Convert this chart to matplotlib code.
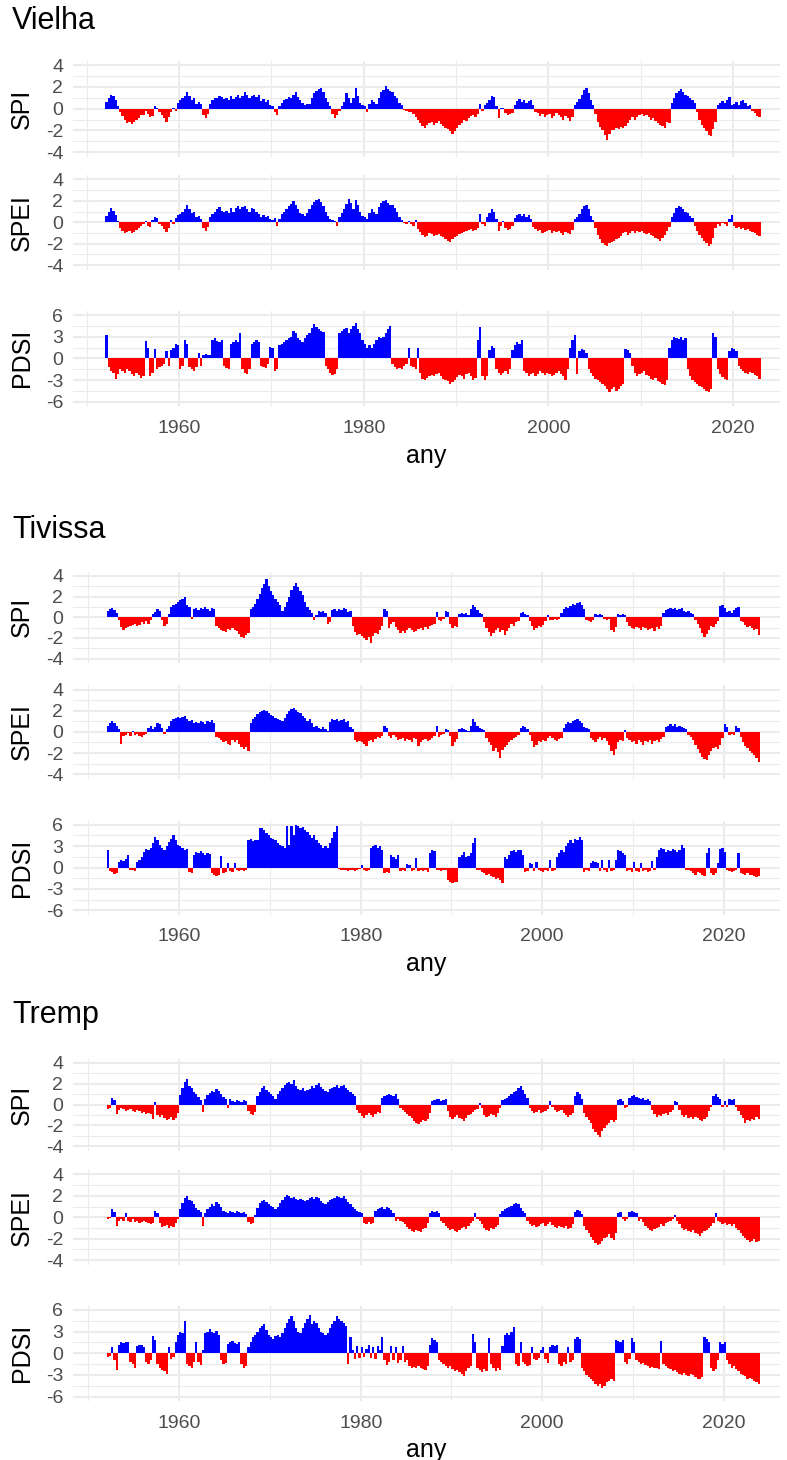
import numpy as np
import matplotlib
matplotlib.use("Agg")
import matplotlib.pyplot as plt

plt.rcParams["font.family"] = ["Liberation Sans", "DejaVu Sans"]

# Quarterly values (4 per year).
# Vielha runs 1952-2022, Tivissa and Tremp run 1952-2023.
first_year = 1952
stations = ["Vielha", "Tivissa", "Tremp"]
index_names = ["SPI", "SPEI", "PDSI"]

vielha_spi = [
    0.6, 1.0, 1.3, 1.2, 0.8, 0.2, -0.3, -0.7,  # 1952
    -1.0, -1.3, -1.2, -1.4, -1.2, -1.0, -0.9, -0.6,  # 1954
    -0.6, -0.2, -0.5, -0.8, -0.7, 0.2, 0.1, -0.3,  # 1956
    -0.6, -0.9, -1.2, -0.8, -0.3, 0.1, -0.2, 0.5,  # 1958
    0.8, 1.0, 1.2, 1.5, 1.2, 0.8, 1.0, 0.4,  # 1960
    0.6, 0.4, -0.6, -0.9, -0.5, 0.4, 0.8, 1.0,  # 1962
    1.0, 1.2, 1.1, 0.9, 1.0, 0.8, 1.2, 0.9,  # 1964
    1.1, 1.3, 1.0, 1.2, 1.5, 1.3, 1.0, 1.2,  # 1966
    1.3, 1.1, 1.3, 0.7, 0.9, 0.6, 0.8, 0.3,  # 1968
    0.2, -0.3, -0.6, 0.2, 0.5, 0.8, 0.9, 1.1,  # 1970
    1.0, 1.3, 1.5, 1.1, 0.8, 0.5, 0.3, 0.4,  # 1972
    0.4, 1.0, 1.4, 1.6, 1.8, 1.9, 1.5, 1.0,  # 1974
    0.6, 0.2, -0.5, -0.9, -0.6, -0.2, 0.2, 0.6,  # 1976
    1.4, 1.0, 0.5, 1.0, 1.9, 1.2, 0.5, 0.3,  # 1978
    0.2, -0.3, 0.4, 0.8, 0.6, 0.4, 1.0, 1.5,  # 1980
    1.7, 2.1, 1.8, 1.6, 1.5, 1.2, 1.0, 0.5,  # 1982
    0.3, -0.1, -0.2, -0.3, -0.3, -0.5, -0.8, -1.0,  # 1984
    -1.3, -1.6, -1.8, -1.5, -1.3, -1.2, -1.5, -1.3,  # 1986
    -1.1, -1.4, -1.6, -1.8, -1.9, -2.1, -2.3, -2.1,  # 1988
    -1.8, -1.5, -1.3, -1.0, -1.1, -0.9, -0.7, -0.6,  # 1990
    -0.8, -0.5, 0.4, -0.2, 0.3, 0.5, 0.8, 1.2,  # 1992
    1.1, 0.2, -0.9, 0.1, 0.1, -0.4, -0.6, -0.5,  # 1994
    -0.4, 0.3, 0.7, 0.9, 0.6, 0.8, 0.5, 0.7,  # 1996
    0.8, 0.3, -0.3, -0.4, -0.7, -0.5, -0.8, -0.6,  # 1998
    -0.5, -0.9, -0.7, -0.4, -0.6, -0.8, -1.0, -0.7,  # 2000
    -0.9, -1.1, -0.8, 0.3, 0.6, 0.9, 1.3, 1.7,  # 2002
    1.9, 1.4, 0.8, 0.3, -0.5, -1.2, -1.7, -2.0,  # 2004
    -2.4, -2.9, -2.3, -2.0, -2.0, -1.8, -1.9, -1.7,  # 2006
    -1.8, -1.6, -1.3, -1.0, -0.8, -1.0, -0.8, -0.6,  # 2008
    -0.5, -0.7, -0.6, -0.8, -1.0, -0.9, -1.1, -1.3,  # 2010
    -1.5, -1.6, -1.8, -1.2, -1.3, 0.5, 1.0, 1.4,  # 2012
    1.6, 1.8, 1.5, 1.3, 1.2, 1.0, 0.8, 0.5,  # 2014
    -0.3, -1.0, -1.5, -1.8, -2.1, -2.4, -2.5, -1.9,  # 2016
    -1.2, 0.3, 0.5, 0.7, 0.5, 0.8, 1.1, 0.3,  # 2018
    0.4, 0.6, 0.3, 0.7, 0.8, 0.5, 0.2, 0.3,  # 2020
    -0.2, -0.4, -0.7, -0.8,  # 2022
]

vielha_spei = [
    0.6, 1.0, 1.3, 1.1, 0.7, 0.1, -0.5, -0.8,  # 1952
    -1.0, -0.9, -0.8, -1.0, -0.9, -0.7, -0.5, -0.3,  # 1954
    -0.2, 0.1, -0.3, -0.4, 0.2, 0.5, 0.4, -0.2,  # 1956
    -0.3, -0.6, -0.9, -0.5, 0.2, -0.2, 0.4, 0.7,  # 1958
    0.8, 1.0, 1.2, 1.6, 1.2, 0.9, 1.0, 0.5,  # 1960
    0.6, 0.3, -0.5, -0.8, -0.4, 0.5, 0.8, 1.0,  # 1962
    1.2, 1.4, 1.1, 1.0, 1.1, 0.9, 1.3, 1.0,  # 1964
    1.3, 1.5, 1.2, 1.4, 1.5, 1.2, 1.0, 1.3,  # 1966
    1.2, 1.0, 0.8, 0.5, 0.7, 0.5, 0.6, 0.3,  # 1968
    0.2, 0.4, -0.3, 0.3, 0.8, 1.0, 1.2, 1.5,  # 1970
    1.7, 2.0, 1.6, 1.2, 0.9, 0.8, 0.6, 0.9,  # 1972
    1.2, 1.6, 1.9, 2.1, 2.2, 1.9, 1.5, 1.0,  # 1974
    0.6, 0.3, 0.2, 0.1, -0.3, 0.5, 0.9, 1.2,  # 1976
    1.7, 2.2, 1.8, 1.2, 2.1, 1.6, 1.0, 0.6,  # 1978
    0.5, 0.3, 0.9, 1.2, 1.0, 0.8, 1.4, 1.8,  # 1980
    2.0, 2.1, 1.8, 1.6, 1.6, 1.3, 1.0, 0.5,  # 1982
    0.2, -0.1, -0.2, 0.1, -0.2, -0.3, 0.2, -0.6,  # 1984
    -0.9, -1.2, -1.4, -1.3, -1.0, -1.1, -1.3, -1.2,  # 1986
    -1.1, -1.3, -1.4, -1.6, -1.7, -1.8, -1.6, -1.4,  # 1988
    -1.3, -1.1, -1.0, -0.9, -0.8, -0.7, -0.6, -0.8,  # 1990
    -0.7, -0.5, 0.8, -0.2, -0.3, 0.5, 0.9, 1.2,  # 1992
    1.0, 0.3, -0.8, -0.3, 0.1, -0.5, -0.7, -0.6,  # 1994
    -0.3, 0.4, 0.7, 0.8, 0.6, 0.8, 0.5, 0.7,  # 1996
    0.3, -0.4, -0.6, -0.8, -0.7, -1.0, -0.9, -0.8,  # 1998
    -0.7, -1.0, -0.8, -0.9, -0.8, -1.0, -1.2, -0.9,  # 2000
    -1.0, -1.1, -0.7, 0.3, 0.5, 0.8, 1.2, 1.5,  # 2002
    1.6, 1.2, 0.6, 0.2, -0.5, -1.2, -1.6, -1.9,  # 2004
    -2.1, -2.2, -1.9, -1.8, -1.7, -1.6, -1.5, -1.3,  # 2006
    -1.0, -0.9, -1.2, -1.0, -0.8, -1.0, -0.8, -0.9,  # 2008
    -0.8, -1.0, -1.1, -1.0, -1.2, -1.3, -1.5, -1.6,  # 2010
    -1.7, -1.5, -1.2, -0.8, -0.4, 0.5, 0.9, 1.3,  # 2012
    1.5, 1.4, 1.2, 1.0, 0.9, 0.6, 0.4, -0.3,  # 2014
    -0.8, -1.2, -1.5, -1.7, -1.9, -2.2, -2.0, -1.5,  # 2016
    -0.5, -0.2, -0.3, -0.1, -0.2, -0.3, 0.3, 0.7,  # 2018
    -0.3, -0.5, -0.4, -0.6, -0.5, -0.7, -0.6, -0.8,  # 2020
    -0.9, -1.0, -1.2, -1.3,  # 2022
]

vielha_pdsi = [
    3.2, -1.2, -1.8, -2.0, -2.8, -2.2, -1.5, -1.8,  # 1952
    -2.0, -1.5, -1.8, -2.2, -2.5, -2.0, -2.3, -2.7,  # 1954
    -2.5, 2.4, 1.5, -2.5, -2.0, 1.3, -1.5, -1.2,  # 1956
    -1.0, -0.8, 1.0, -1.0, 1.2, 1.5, 2.0, 1.8,  # 1958
    -1.5, -1.0, 2.5, 2.0, -1.2, -1.5, -1.8, -1.2,  # 1960
    0.8, -1.0, 0.5, 0.6, 0.4, 0.5, 2.5, 2.8,  # 1962
    2.4, 2.2, 2.5, -1.0, -1.3, -1.5, 2.0, 2.3,  # 1964
    2.5, 2.2, 3.5, -1.5, -2.0, -2.2, -1.5, 2.0,  # 1966
    2.3, 2.5, 2.2, -1.0, -1.2, -1.3, -0.8, 1.6,  # 1968
    1.5, -1.8, -1.5, 1.8, 2.0, 2.2, 2.5, 2.8,  # 1970
    3.0, 3.8, 3.5, 2.8, 2.5, 2.3, 2.8, 3.2,  # 1972
    3.5, 4.2, 4.7, 4.3, 4.0, 3.8, 3.6, -1.0,  # 1974
    -1.5, -2.0, -2.3, -2.2, -1.5, 3.5, 3.8, 4.0,  # 1976
    4.2, 3.5, 4.0, 4.5, 4.9, 4.0, 3.5, 2.5,  # 1978
    2.0, 1.5, 1.8, 1.5, 2.0, 2.5, 3.0, 2.8,  # 1980
    3.0, 3.5, 4.0, 4.5, -0.8, -1.2, -1.5, -1.3,  # 1982
    -1.5, -1.0, -0.8, 1.5, -1.0, -1.2, -1.5, 1.4,  # 1984
    -2.0, -2.8, -3.0, -2.7, -2.5, -2.3, -2.5, -2.2,  # 1986
    -2.0, -2.4, -2.8, -3.0, -3.2, -3.5, -3.3, -3.0,  # 1988
    -2.6, -2.3, -2.5, -2.8, -2.2, -2.0, -2.5, -3.0,  # 1990
    -2.7, 2.5, 4.3, -2.5, -3.0, -2.5, 1.2, 1.7,  # 1992
    1.5, -1.5, -2.0, -2.3, -2.0, -1.8, -2.1, -1.5,  # 1994
    1.2, 1.8, 2.2, 2.0, 2.5, -1.8, -2.0, -2.5,  # 1996
    -2.2, -2.0, -2.4, -2.1, -1.8, -2.0, -2.3, -2.0,  # 1998
    -2.2, -2.5, -2.3, -2.0, -1.8, -2.2, -2.5, -3.0,  # 2000
    -1.5, 1.5, 2.5, 3.2, -2.2, 1.0, 1.3, 1.2,  # 2002
    0.8, -1.5, -2.0, -2.5, -2.8, -3.0, -3.3, -3.5,  # 2004
    -3.8, -4.2, -4.7, -4.3, -4.0, -4.5, -4.2, -3.8,  # 2006
    -3.5, 1.3, 1.2, 0.8, -1.0, -2.0, -2.5, -2.2,  # 2008
    -2.0, -1.8, -2.3, -2.5, -2.8, -3.0, -2.7, -3.2,  # 2010
    -3.3, -3.5, -3.7, -3.0, 1.5, 2.5, 3.0, 2.8,  # 2012
    2.7, 3.0, 2.5, 2.8, -1.5, -2.5, -3.0, -3.3,  # 2014
    -3.5, -3.8, -4.0, -4.2, -4.5, -4.7, -4.3, 3.5,  # 2016
    3.0, -1.5, -2.2, -2.6, -2.8, -3.0, 1.0, 1.5,  # 2018
    1.3, 1.0, -1.0, -1.5, -1.8, -2.0, -2.2, -1.9,  # 2020
    -2.0, -2.3, -2.5, -2.8,  # 2022
]

tivissa_spi = [
    0.6, 0.8, 0.9, 0.7, 0.4, -0.3, -0.9, -1.2,  # 1952
    -1.0, -0.9, -0.8, -0.7, -0.6, -0.8, -0.7, -0.5,  # 1954
    -0.6, -0.4, -0.6, -0.3, 0.3, 0.5, 0.8, 0.6,  # 1956
    -0.3, -0.8, -0.6, 0.3, 1.0, 1.2, 1.3, 1.5,  # 1958
    1.7, 1.8, 2.0, 1.2, 1.0, -0.2, 0.8, 0.9,  # 1960
    0.7, 0.9, 0.8, 1.0, 0.8, 0.6, 0.9, 0.8,  # 1962
    -0.8, -1.0, -1.2, -1.3, -1.4, -1.1, -1.2, -1.0,  # 1964
    -1.2, -1.3, -1.6, -1.9, -2.0, -1.7, -1.5, 0.8,  # 1966
    1.0, 1.3, 1.8, 2.3, 2.8, 3.2, 3.7, 3.0,  # 1968
    2.5, 2.2, 1.8, 1.5, 1.2, 0.6, 1.0, 1.5,  # 1970
    2.0, 2.6, 3.0, 3.3, 2.9, 2.5, 2.2, 1.5,  # 1972
    1.0, 0.7, 0.4, -0.3, 0.2, 0.6, 0.5, 0.6,  # 1974
    0.4, -0.6, -0.5, 0.7, 0.8, 0.6, 0.8, 0.7,  # 1976
    0.9, 0.8, 0.5, 0.6, -0.8, -1.4, -1.7, -1.6,  # 1978
    -1.8, -2.0, -2.2, -1.9, -2.5, -1.8, -1.5, -1.6,  # 1980
    -1.2, -0.8, 0.8, 0.6, -1.0, -0.6, -0.5, -0.9,  # 1982
    -1.2, -1.5, -1.3, -1.5, -1.2, -1.0, -1.2, -1.4,  # 1984
    -1.3, -1.1, -1.0, -1.2, -0.9, -1.1, -0.8, -0.7,  # 1986
    -0.6, 0.5, -0.3, -0.4, -0.2, 0.6, 0.5, -0.6,  # 1988
    -1.0, -0.8, -0.9, 0.3, 0.4, 0.3, 0.4, 0.2,  # 1990
    0.8, 1.2, 1.0, 0.7, 0.4, 0.3, -0.5, -1.0,  # 1992
    -1.4, -1.8, -1.5, -1.2, -1.0, -1.4, -1.2, -1.7,  # 1994
    -1.3, -1.0, -0.6, -0.8, -0.5, -0.4, 0.4, 0.5,  # 1996
    0.3, 0.2, -0.4, -0.8, -1.2, -1.0, -0.8, -0.9,  # 1998
    -0.7, -0.4, 0.2, -0.3, -0.3, -0.2, -0.3, -0.2,  # 2000
    0.4, 0.8, 1.0, 0.9, 1.1, 1.3, 1.2, 1.4,  # 2002
    1.5, 1.2, 0.8, -0.3, -0.4, -0.5, -0.3, 0.3,  # 2004
    0.2, 0.3, 0.2, -0.2, -0.3, -0.2, -1.2, -1.4,  # 2006
    -0.9, 0.3, 0.2, 0.3, 0.2, -0.5, -0.8, -1.0,  # 2008
    -1.1, -0.9, -1.0, -1.2, -0.9, -1.0, -1.2, -1.1,  # 2010
    -1.0, -1.3, -0.9, -1.1, -0.8, 0.4, 0.7, 0.8,  # 2012
    0.9, 0.8, 0.9, 0.7, 0.8, 0.9, 0.6, 0.5,  # 2014
    0.6, 0.4, 0.3, -0.3, -0.6, -1.0, -1.5, -1.9,  # 2016
    -1.6, -1.2, -0.8, -0.9, -0.6, -0.4, 1.1, 1.2,  # 2018
    0.9, 0.5, 0.6, 0.4, 0.7, 0.9, 1.0, -0.4,  # 2020
    -0.5, -0.7, -0.9, -0.8, -1.0, -1.2, -1.1, -1.7,  # 2022
]

tivissa_spei = [
    0.6, 0.8, 1.0, 0.8, 0.6, 0.3, -1.1, -0.4,  # 1952
    -0.3, -0.1, -0.4, 0.1, -0.3, -0.2, -0.4, -0.5,  # 1954
    -0.3, -0.2, 0.4, 0.6, 0.3, 0.5, 0.8, 0.7,  # 1956
    0.4, -0.2, 0.3, 0.6, 1.0, 1.2, 1.3, 1.4,  # 1958
    1.3, 1.4, 1.5, 1.2, 1.0, 1.1, 0.8, 0.9,  # 1960
    0.8, 1.0, 0.9, 0.7, 1.0, 0.9, 1.1, 0.8,  # 1962
    -0.5, -0.6, -0.8, -1.0, -0.9, -1.1, -1.2, -0.8,  # 1964
    -1.0, -0.8, -1.1, -1.4, -1.6, -1.4, -1.8, 0.8,  # 1966
    1.2, 1.4, 1.7, 1.9, 2.0, 2.1, 2.0, 1.8,  # 1968
    1.6, 1.5, 1.3, 1.2, 1.1, 1.0, 1.3, 1.7,  # 1970
    2.0, 2.2, 2.3, 2.1, 1.9, 1.8, 1.5, 1.3,  # 1972
    1.0, 1.2, 0.8, 0.5, 0.6, 0.4, 0.3, 0.5,  # 1974
    0.3, 0.1, 0.9, 1.2, 1.1, 1.2, 1.0, 1.1,  # 1976
    1.2, 0.9, 1.0, 0.5, 0.3, -0.8, -1.0, -0.9,  # 1978
    -1.0, -1.1, -1.3, -0.9, -0.8, -1.0, -0.7, -0.5,  # 1980
    -0.6, -0.4, 0.6, 0.4, -0.4, -0.6, -0.3, -0.5,  # 1982
    -0.8, -0.7, -0.6, -0.9, -0.7, -0.8, -1.0, -0.6,  # 1984
    -0.7, -1.3, -1.0, -0.8, -0.7, -0.9, -0.8, -0.6,  # 1986
    -0.4, 0.6, -0.5, -0.3, -0.2, 0.3, 0.2, -0.4,  # 1988
    -1.3, -1.0, -0.7, 0.3, 0.4, 0.3, 0.2, 0.1,  # 1990
    0.6, 1.2, 0.9, 0.6, 0.4, 0.3, 0.2, -0.6,  # 1992
    -1.0, -1.2, -1.8, -1.5, -1.9, -2.5, -1.7, -1.4,  # 1994
    -1.2, -1.0, -0.8, -0.6, -0.5, -0.3, 0.4, 0.6,  # 1996
    0.5, 0.3, -0.3, -0.9, -1.4, -1.2, -0.9, -1.0,  # 1998
    -0.8, -0.9, -0.6, -0.4, -0.6, -0.8, -0.9, -0.7,  # 2000
    -0.6, 0.4, 0.7, 0.9, 0.8, 1.0, 1.1, 1.2,  # 2002
    1.0, 0.8, 0.5, 0.4, 0.3, -0.6, -0.8, -1.0,  # 2004
    -0.7, -0.5, -0.8, -0.6, -0.9, -1.2, -1.8, -2.2,  # 2006
    -1.6, -1.0, -0.8, -0.9, 0.2, -0.6, -0.8, -1.0,  # 2008
    -0.9, -1.1, -0.8, -1.0, -1.2, -0.9, -1.0, -0.8,  # 2010
    -1.1, -0.9, -0.8, -1.0, -0.7, -0.5, 0.5, 0.6,  # 2012
    0.7, 0.6, 0.7, 0.5, 0.6, 0.5, 0.4, 0.3,  # 2014
    -0.3, -0.5, -0.8, -1.2, -1.6, -2.0, -2.4, -2.6,  # 2016
    -2.7, -2.2, -1.8, -1.5, -1.4, -1.6, -1.2, -0.6,  # 2018
    0.7, 0.5, -0.3, -0.2, -0.3, 0.6, 0.4, -0.5,  # 2020
    -1.0, -1.3, -1.5, -1.8, -2.0, -2.2, -2.5, -2.8,  # 2022
]

tivissa_pdsi = [
    2.4, -0.5, -0.7, -0.9, -0.8, 0.8, 1.0, 0.9,  # 1952
    1.2, 1.7, -0.4, -0.3, -0.5, 0.8, 1.0, 1.5,  # 1954
    2.2, 2.6, 2.4, 2.8, 3.5, 4.3, 3.8, 3.2,  # 1956
    2.8, 2.5, 3.0, 3.6, 4.0, 4.5, 3.8, 3.2,  # 1958
    3.0, 2.8, 2.5, 2.6, -0.6, -0.8, 1.8, 2.2,  # 1960
    2.0, 2.3, 2.0, 1.8, 2.1, 1.9, -0.8, -1.0,  # 1962
    -1.2, -1.0, 1.6, -0.8, -0.6, 0.6, -0.5, -0.6,  # 1964
    0.6, -0.4, -0.5, -0.3, -0.5, -0.4, 3.8, 4.0,  # 1966
    3.7, 3.9, 3.8, 5.5, 5.6, 5.3, 4.8, 4.5,  # 1968
    4.2, 4.0, 3.8, 3.5, 3.2, 3.0, 2.8, 5.8,  # 1970
    3.2, 5.8, 4.5, 5.9, 5.8, 5.5, 5.7, 5.2,  # 1972
    5.0, 4.6, 4.2, 4.5, 3.8, 3.5, 3.2, 2.8,  # 1974
    3.0, 2.8, 3.5, 4.2, 5.0, 5.8, -0.2, -0.3,  # 1976
    -0.4, -0.3, -0.5, -0.4, -0.3, -0.5, -0.4, -0.2,  # 1978
    0.4, -0.3, -0.5, -0.4, 2.8, 3.0, 3.2, 2.8,  # 1980
    3.0, 2.5, -0.8, -0.6, -0.8, 1.8, 1.5, 1.2,  # 1982
    1.8, -0.5, -0.4, -0.5, 0.5, 0.4, -0.5, -0.4,  # 1984
    1.4, -0.5, -0.3, -0.5, -0.4, -0.6, 2.0, 2.5,  # 1986
    2.3, -0.3, -0.4, -0.5, -0.3, -0.4, -1.8, -2.0,  # 1988
    -2.2, -2.0, -2.1, 1.5, 1.8, 2.2, 1.5, 1.6,  # 1990
    2.0, 3.5, 4.2, -0.3, -0.4, -0.6, -0.8, -1.0,  # 1992
    -0.9, -1.2, -1.4, -1.6, -1.5, -1.8, -2.2, 1.5,  # 1994
    1.2, 1.8, 2.3, 2.5, 2.2, 2.4, 2.5, 1.8,  # 1996
    -0.6, -0.5, 0.6, 0.5, -0.5, 0.8, -0.4, -0.5,  # 1998
    -0.6, -0.4, -0.5, 1.0, -0.5, -0.4, 1.5, 2.0,  # 2000
    2.5, 2.2, 3.0, 3.5, 3.8, 3.5, 4.0, 3.9,  # 2002
    4.3, 3.8, -0.6, -0.4, -0.5, 0.6, 0.9, 0.8,  # 2004
    0.6, -0.5, 1.0, -0.4, -0.6, 1.0, -0.5, -0.4,  # 2006
    1.0, 2.5, 2.3, 2.0, 1.8, -0.5, -0.4, -0.6,  # 2008
    0.8, -0.5, -0.6, 0.7, -0.5, -0.4, -0.6, -0.5,  # 2010
    0.9, -0.4, 1.5, 2.5, 2.8, 2.6, 2.2, 2.5,  # 2012
    2.3, 2.6, 2.4, 2.2, 2.5, 3.2, 2.7, -0.3,  # 2014
    -0.4, -0.5, -0.8, -1.0, -0.6, -0.8, -1.0, -1.2,  # 2016
    2.0, 2.7, -0.8, -1.0, -0.8, 0.6, 2.6, 2.8,  # 2018
    2.2, -0.4, -0.5, -0.6, -0.5, -0.3, 2.0, -0.8,  # 2020
    -0.9, -1.0, -0.8, -1.1, -1.0, -1.2, -1.3, -1.2,  # 2022
]

tremp_spi = [
    -0.4, -0.3, 0.6, 0.4, -0.9, -0.5, -0.3, -0.4,  # 1952
    -0.6, -0.5, -0.4, -0.6, -0.7, -0.5, -0.6, -0.8,  # 1954
    -0.7, -0.9, -0.8, -0.9, -1.4, 0.2, -1.0, -1.2,  # 1956
    -1.0, -1.3, -1.5, -1.4, -1.2, -1.5, -1.3, -0.8,  # 1958
    0.9, 1.6, 2.2, 2.4, 1.8, 1.6, 1.2, 1.0,  # 1960
    0.7, 0.4, -0.7, 0.5, 0.9, 1.1, 1.3, 1.2,  # 1962
    1.5, 1.3, 1.0, 0.7, 0.5, -0.3, 0.5, 0.3,  # 1964
    0.2, 0.4, 0.3, 0.2, 0.4, 0.3, -0.6, -0.9,  # 1966
    -1.0, -0.7, 0.8, 1.2, 1.6, 1.8, 1.4, 1.2,  # 1968
    1.0, 0.8, 0.5, 1.0, 1.3, 1.6, 1.9, 2.1,  # 1970
    2.2, 2.0, 2.3, 1.8, 1.5, 1.4, 1.6, 1.3,  # 1972
    1.4, 1.5, 1.8, 1.6, 1.9, 2.1, 1.7, 1.5,  # 1974
    1.3, 1.2, 1.5, 1.6, 1.7, 1.9, 1.6, 1.8,  # 1976
    1.9, 1.6, 1.4, 1.2, 1.0, 0.8, -0.5, -0.8,  # 1978
    -1.1, -1.3, -1.0, -0.8, -1.0, -1.2, -0.9, -0.7,  # 1980
    -0.8, 0.6, 0.8, 0.9, 1.0, 0.9, 0.8, 1.0,  # 1982
    0.5, -0.3, -0.5, -0.7, -0.9, -1.1, -1.3, -1.6,  # 1984
    -1.8, -1.9, -1.7, -1.5, -1.6, -1.4, -0.8, 0.3,  # 1986
    0.4, 0.5, 0.5, 0.3, 0.4, 0.5, -0.6, -1.2,  # 1988
    -1.4, -1.2, -1.0, -1.3, -1.4, -1.6, -1.3, -1.0,  # 1990
    -0.9, -0.7, -0.5, -0.4, 0.1, -0.3, -1.0, -1.2,  # 1992
    -1.1, -0.9, -1.0, -1.2, -0.8, -0.3, 0.4, 0.5,  # 1994
    0.6, 0.8, 1.0, 1.2, 1.3, 1.6, 1.8, 1.4,  # 1996
    1.0, 0.6, -0.3, -0.6, -0.8, -0.7, -0.5, -0.8,  # 1998
    -0.7, -0.6, -0.4, 0.3, -0.2, -0.5, -0.7, -0.6,  # 2000
    -0.5, -0.8, -1.0, -1.2, -1.0, -0.8, 0.8, 1.2,  # 2002
    1.0, 0.5, -0.8, -1.2, -1.5, -1.8, -2.3, -2.6,  # 2004
    -2.9, -3.1, -2.5, -2.2, -2.0, -1.8, -1.5, -1.7,  # 2006
    -1.5, 0.4, 0.5, 0.3, -0.3, -0.2, 0.6, 0.8,  # 2008
    0.9, 0.7, 0.6, 0.5, 0.6, 0.4, 0.5, 0.3,  # 2010
    -0.5, -0.9, -1.2, -1.0, -1.1, -0.9, -0.8, -1.0,  # 2012
    -0.7, -0.5, 0.3, 0.2, -0.5, -1.0, -1.2, -1.0,  # 2014
    -1.3, -1.2, -1.4, -1.2, -1.3, -1.5, -1.6, -1.4,  # 2016
    -1.2, -0.6, -0.2, 0.8, 1.0, 0.7, 0.5, -0.2,  # 2018
    0.3, -0.2, 0.5, 0.4, 0.5, -0.2, -0.6, -1.0,  # 2020
    -1.3, -1.8, -1.5, -1.6, -1.4, -1.5, -1.2, -1.4,  # 2022
]

tremp_spei = [
    -0.2, -0.1, 0.8, 0.5, -0.8, -0.3, -0.2, -0.3,  # 1952
    0.4, -0.3, -0.4, -0.2, -0.4, -0.3, -0.5, -0.4,  # 1954
    -0.3, -0.4, -0.5, -0.6, -0.5, 0.6, 0.4, -0.5,  # 1956
    -0.9, -0.8, -0.7, -1.0, -0.8, -0.9, -0.5, -0.2,  # 1958
    0.8, 1.3, 1.8, 2.0, 1.6, 1.5, 1.2, 0.9,  # 1960
    0.7, 0.5, -0.8, 0.4, 0.8, 1.0, 1.2, 1.1,  # 1962
    1.4, 1.2, 1.0, 0.6, 0.5, 0.4, 0.6, 0.5,  # 1964
    0.4, 0.6, 0.5, 0.4, 0.5, 0.3, -0.4, -0.6,  # 1966
    -0.5, 0.2, 0.9, 1.3, 1.5, 1.6, 1.4, 1.2,  # 1968
    1.1, 1.0, 0.8, 1.0, 1.3, 1.6, 1.9, 2.1,  # 1970
    2.0, 1.8, 1.9, 1.7, 1.6, 1.7, 1.6, 1.5,  # 1972
    1.6, 1.8, 1.9, 1.7, 1.9, 1.8, 1.5, 1.3,  # 1974
    1.2, 1.4, 1.6, 1.7, 1.8, 2.0, 1.9, 1.8,  # 1976
    2.0, 1.7, 1.4, 1.2, 1.0, 0.8, 0.6, 0.5,  # 1978
    0.4, -0.5, -0.6, -0.4, -0.6, -0.5, 0.6, 0.8,  # 1980
    0.9, 1.0, 0.8, 1.0, 0.9, 0.7, 0.4, -0.3,  # 1982
    -0.2, -0.3, -0.4, -0.6, -0.9, -1.1, -1.3, -1.4,  # 1984
    -1.2, -1.3, -1.4, -1.1, -1.0, -0.5, 0.4, 0.6,  # 1986
    0.5, 0.6, 0.4, -0.3, -0.5, -0.8, -1.0, -1.2,  # 1988
    -1.1, -1.3, -1.4, -1.2, -1.0, -0.9, -1.1, -0.8,  # 1990
    -0.5, -0.3, 0.4, -0.2, -0.3, -0.6, -1.0, -1.2,  # 1992
    -1.3, -1.0, -1.1, -0.9, -0.7, 0.3, 0.6, 0.8,  # 1994
    0.9, 1.0, 1.1, 1.2, 1.3, 1.2, 0.9, 0.6,  # 1996
    0.4, -0.3, -0.6, -0.8, -0.7, -0.9, -0.8, -0.6,  # 1998
    -0.5, -0.8, -0.6, -0.4, -0.7, -0.9, -1.0, -0.8,  # 2000
    -0.9, -1.0, -0.8, -1.1, -1.0, -0.6, 0.5, 0.7,  # 2002
    0.6, 0.3, -0.8, -1.2, -1.5, -1.8, -2.1, -2.4,  # 2004
    -2.6, -2.5, -2.2, -1.9, -1.8, -1.6, -1.9, -2.1,  # 2006
    -1.5, 0.4, 0.5, -0.2, -0.3, -0.2, 0.5, 0.6,  # 2008
    0.5, 0.4, -0.3, -0.2, -0.4, -0.8, -1.0, -1.2,  # 2010
    -1.3, -1.1, -1.0, -0.9, -0.6, -0.8, -0.5, -0.4,  # 2012
    -0.3, -0.2, 0.2, -0.3, -0.6, -1.0, -1.2, -1.1,  # 2014
    -1.3, -1.4, -1.2, -1.5, -1.6, -1.7, -1.5, -1.3,  # 2016
    -1.2, -1.0, -0.8, -0.5, 0.4, -0.3, -0.4, -0.6,  # 2018
    -0.5, -0.7, -0.6, -0.8, -0.6, -1.0, -1.2, -1.5,  # 2020
    -1.7, -1.9, -2.1, -2.3, -2.2, -2.0, -2.3, -2.2,  # 2022
]

tremp_pdsi = [
    -0.5, -0.4, 0.8, -1.0, -2.3, 1.2, 1.6, 1.4,  # 1952
    1.5, 1.6, -1.2, -1.5, -2.0, 1.0, 1.2, 1.1,  # 1954
    0.8, -1.2, -1.5, -1.0, 2.4, 1.8, -1.5, -2.0,  # 1956
    -2.3, -2.5, -2.8, 0.8, -0.8, -0.5, 1.5, 2.5,  # 1958
    3.0, 2.8, 4.5, -1.5, -1.8, -2.0, -1.2, 1.5,  # 1960
    -1.2, -1.6, 0.5, 2.8, 3.0, 3.3, 3.0, 2.8,  # 1962
    3.1, 2.5, -1.0, -1.5, -1.3, 1.3, 1.5, 1.7,  # 1964
    1.4, 1.3, 1.5, -1.5, -2.0, -1.8, 0.8, 1.5,  # 1966
    2.2, 2.5, 3.0, 3.5, 3.8, 4.0, 3.2, 2.5,  # 1968
    2.2, 2.0, 2.4, 2.5, 2.3, 2.8, 3.5, 4.2,  # 1970
    4.8, 5.2, 4.5, 3.5, 3.0, 2.8, 3.5, 4.2,  # 1972
    4.8, 5.3, 4.0, 4.5, 4.2, 3.5, 3.0, 2.8,  # 1974
    2.5, 2.8, 3.5, 4.0, 4.5, 5.2, 4.8, 4.5,  # 1976
    4.2, 3.8, -1.5, 2.2, 0.5, -0.8, 1.0, -0.6,  # 1978
    0.8, -0.5, 0.6, 1.2, -0.6, 0.8, -0.8, 1.0,  # 1980
    0.5, 2.3, -1.0, -1.6, -1.2, 1.0, -1.0, 0.8,  # 1982
    -1.3, -0.9, 1.0, -1.2, -1.0, -1.8, -2.0, -1.9,  # 1984
    -2.1, -1.8, -2.0, -2.2, -2.3, -1.8, 1.2, 2.1,  # 1986
    1.8, 1.5, -1.0, -1.2, -1.5, -1.8, -2.0, -1.7,  # 1988
    -2.2, -2.5, -2.3, -2.6, -2.8, -3.2, -2.5, -2.0,  # 1990
    -1.8, 2.7, 1.5, -2.0, -2.3, -2.6, -2.2, -2.4,  # 1992
    2.1, -1.5, -2.0, -2.5, -2.0, -2.3, 1.0, 2.5,  # 1994
    2.8, 2.5, 3.0, 3.6, -1.5, -1.8, 1.5, -1.2,  # 1996
    -1.5, -1.8, -1.6, 0.8, -0.8, -1.0, -0.7, 0.5,  # 1998
    0.9, -0.8, -1.3, 0.8, 1.2, 1.0, 1.2, -1.5,  # 2000
    -1.8, -1.2, -1.5, 0.8, -1.2, -1.0, 2.0, 2.2,  # 2002
    2.0, -2.0, -2.5, -3.0, -3.3, -3.5, -3.8, -4.2,  # 2004
    -4.5, -4.3, -4.8, -4.5, -4.0, -3.8, -3.5, -3.8,  # 2006
    1.8, 1.7, 1.5, 1.8, -1.2, -1.5, -0.8, 2.1,  # 2008
    1.5, -1.0, -1.2, -1.5, -1.3, -1.6, -1.8, -2.0,  # 2010
    -1.9, -2.1, -2.0, -2.2, 1.7, -1.5, -1.8, -2.0,  # 2012
    -2.2, -2.5, -2.3, -2.6, -2.8, -3.0, -2.7, -3.0,  # 2014
    -3.2, -2.8, -3.0, -3.3, -3.5, -3.6, -3.3, 2.2,  # 2016
    2.0, 1.5, -2.0, -2.5, -2.2, -1.0, 1.5, 1.3,  # 2018
    1.5, -1.0, -1.5, -2.0, -1.8, -2.2, -2.5, -2.8,  # 2020
    -3.0, -3.2, -3.5, -3.4, -3.6, -3.8, -4.0, -4.2,  # 2022
]

station_data = {
    "Vielha": [vielha_spi, vielha_spei, vielha_pdsi],
    "Tivissa": [tivissa_spi, tivissa_spei, tivissa_pdsi],
    "Tremp": [tremp_spi, tremp_spei, tremp_pdsi],
}

# Layout in pixels (figure is 787 x 1460)
W, H = 787, 1460
panel_left, panel_right = 73, 780
panel_rows = {
    "Vielha": [(60.8, 156.5), (175.2, 269.5), (310.7, 406.0)],
    "Tivissa": [(571.8, 662.8), (685.3, 778.5), (820.5, 914.5)],
    "Tremp": [(1058.5, 1150.5), (1170.2, 1264.5), (1305.5, 1401.0)],
}
title_y = {"Vielha": 21, "Tivissa": 530, "Tremp": 1015}
xlabel_y = {"Vielha": 456, "Tivissa": 964, "Tremp": 1450}
x_limits = {"Vielha": (1948.5, 2025.1), "Tivissa": (1948.3, 2026.2), "Tremp": (1948.3, 2026.2)}

blue = "#0000FF"
red = "#FF0000"
grid_col = "#EBEBEB"

fig = plt.figure(figsize=(W / 100, H / 100), dpi=100)

for st in stations:
    fig.text(12 / W, 1 - title_y[st] / H, st, fontsize=22, ha="left", va="center")
    for k, (name, vals) in enumerate(zip(index_names, station_data[st])):
        top, bot = panel_rows[st][k]
        ax = fig.add_axes([panel_left / W, 1 - bot / H,
                           (panel_right - panel_left) / W, (bot - top) / H])
        v = np.array(vals)
        x = first_year + 0.25 * np.arange(len(v)) + 0.125
        colors = np.where(v >= 0, blue, red)
        ax.bar(x, v, width=0.25, color=colors, linewidth=0, zorder=2)

        lim = 6 if name == "PDSI" else 4
        step = 3 if name == "PDSI" else 2
        ax.set_ylim(-lim * 1.1, lim * 1.1)
        ax.set_yticks(np.arange(-lim, lim + 1, step))
        ax.set_yticks(np.arange(-lim + step / 2, lim, step), minor=True)
        ax.set_xlim(*x_limits[st])
        ax.set_xticks([1960, 1980, 2000, 2020])
        ax.set_xticks([1950, 1970, 1990, 2010], minor=True)

        ax.grid(which="major", color=grid_col, linewidth=1.5, zorder=0)
        ax.grid(which="minor", color=grid_col, linewidth=0.8, zorder=0)
        ax.set_axisbelow(True)
        for s in ax.spines.values():
            s.set_visible(False)
        ax.tick_params(which="both", length=0, labelsize=14, colors="#4D4D4D")
        ax.tick_params(axis="y", pad=7)
        ax.tick_params(axis="x", pad=10)
        if name != "PDSI":
            ax.tick_params(axis="x", labelbottom=False)
        ax.set_yticklabels([str(t) for t in ax.get_yticks().astype(int)])

        fig.text(22 / W, 1 - (top + bot) / 2 / H, name, rotation=90,
                 fontsize=18, ha="center", va="center")
    fig.text((panel_left + panel_right) / 2 / W, 1 - xlabel_y[st] / H, "any",
             fontsize=18, ha="center", va="center")

fig.savefig("out.png", dpi=100)
